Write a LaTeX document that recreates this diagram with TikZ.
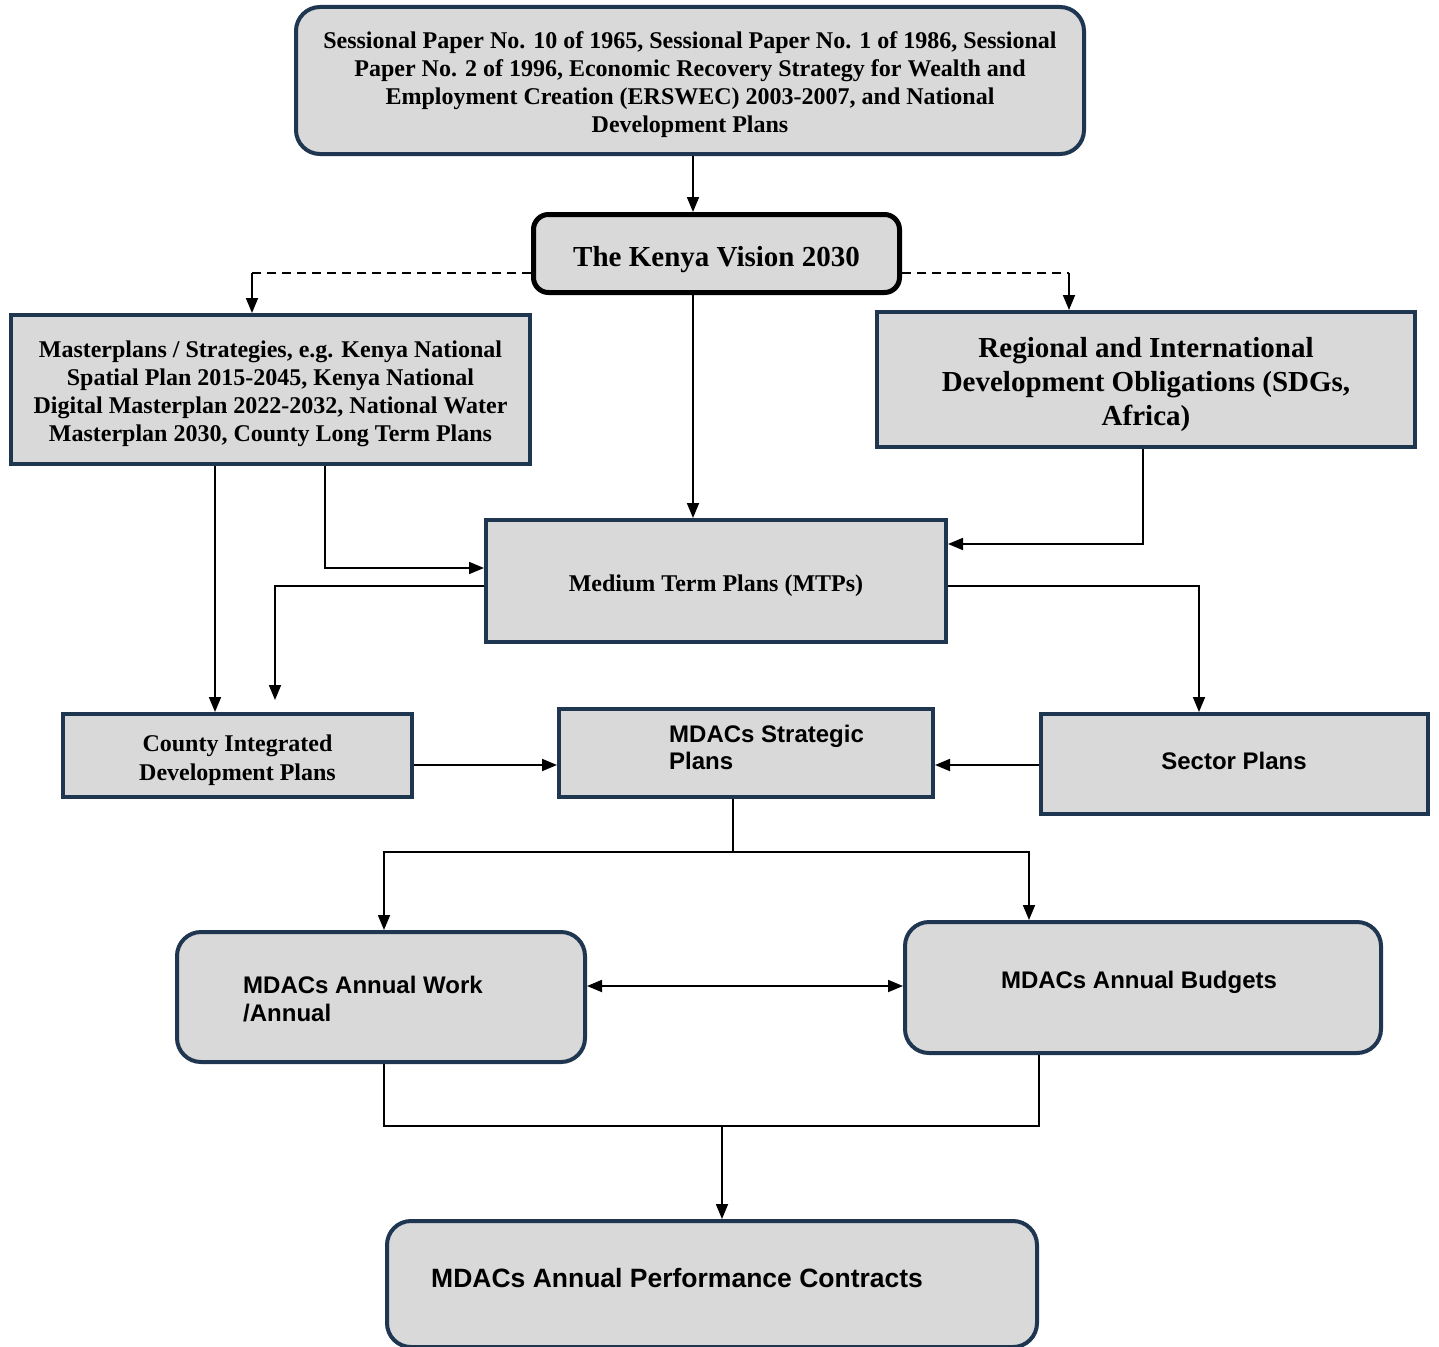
\documentclass[tikz,border=0pt]{standalone}
\usepackage{fontspec}
\setmainfont{Liberation Serif}
\setsansfont{Liberation Sans}
\usetikzlibrary{arrows.meta}
\definecolor{navy}{HTML}{1F3651}
\definecolor{boxfill}{HTML}{D9D9D9}
\tikzset{
  nbox/.style={draw=navy, line width=4pt, fill=boxfill, inner sep=0pt, align=center},
  rbox/.style={nbox, rounded corners=24pt},
  conn/.style={line width=1.8pt, -{Triangle[length=15pt,width=12pt]}},
  dconn/.style={line width=1.8pt, {Triangle[length=15pt,width=12pt]}-{Triangle[length=15pt,width=12pt]}},
  plainline/.style={line width=1.8pt},
  dashline/.style={line width=1.8pt, dash pattern=on 9pt off 6pt},
  txt/.style={inner sep=0pt, align=center},
  serifA/.style={txt, font=\fontsize{24}{28}\selectfont\bfseries},
  serifB/.style={txt, font=\fontsize{29}{34}\selectfont\bfseries},
  sansA/.style={txt, font=\fontsize{24}{28}\selectfont\sffamily\bfseries},
}
\begin{document}
\begin{tikzpicture}[x=1pt,y=-1pt]
\clip (0,0) rectangle (1439,1346);
\fill[white] (0,0) rectangle (1439,1346);

% boxes
\node[rbox, minimum width=788pt, minimum height=147pt] (top) at (690,80.5) {};
\node[serifA] (toptext) at (690,85)
  {Sessional Paper No. 10 of 1965, Sessional Paper No. 1 of 1986, Sessional\\
   Paper No. 2 of 1996, Economic Recovery Strategy for Wealth and\\
   Employment Creation (ERSWEC) 2003-2007, and National\\
   Development Plans};
\node[draw=black, line width=5pt, fill=boxfill, rounded corners=15pt, inner sep=0pt,
  minimum width=366pt, minimum height=78pt] (vision) at (716.5,253.5) {};
\node[txt, font=\fontsize{29}{34}\selectfont\bfseries] (visiontext) at (716.5,259.5)
  {The Kenya Vision 2030};
\node[nbox, minimum width=519pt, minimum height=149pt] (master) at (270.5,389.5) {};
\node[serifA] (mastertext) at (270.5,394)
  {Masterplans / Strategies, e.g. Kenya National\\
   Spatial Plan 2015-2045, Kenya National\\
   Digital Masterplan 2022-2032, National Water\\
   Masterplan 2030, County Long Term Plans};
\node[nbox, minimum width=538pt, minimum height=135pt] (regional) at (1146,379.5) {};
\node[serifB] (regionaltext) at (1146,384.5)
  {Regional and International\\ Development Obligations (SDGs,\\ Africa)};
\node[nbox, minimum width=460pt, minimum height=122pt] (mtp) at (716,581) {};
\node[serifA] (mtptext) at (716,586) {Medium Term Plans (MTPs)};
\node[nbox, minimum width=349pt, minimum height=83pt] (cidp) at (237.5,755.5) {};
\node[txt, font=\fontsize{24}{29}\selectfont\bfseries] (cidptext) at (237.5,760.5)
  {County Integrated\\ Development Plans};
\node[nbox, minimum width=374pt, minimum height=88pt] (strat) at (746,753) {};
\node[txt, font=\fontsize{24}{27}\selectfont\sffamily\bfseries, align=left, anchor=west] (strattext) at (669,747.5)
  {MDACs Strategic\\ Plans};
\node[nbox, minimum width=387pt, minimum height=100pt] (sector) at (1234.5,764) {};
\node[sansA] (sectortext) at (1234,761) {Sector Plans};
\node[rbox, minimum width=408pt, minimum height=130pt] (work) at (381,997) {};
\node[sansA, align=left, anchor=west] (worktext) at (243,999)
  {MDACs Annual Work\\ /Annual};
\node[rbox, minimum width=476pt, minimum height=131pt] (budget) at (1143,987.5) {};
\node[sansA] (budgettext) at (1139,982.5) {MDACs Annual Budgets};
\node[rbox, minimum width=650pt, minimum height=126pt] (perf) at (712,1284) {};
\node[txt, font=\fontsize{26.5}{30}\selectfont\sffamily\bfseries, anchor=west] (perftext) at (431,1278)
  {MDACs Annual Performance Contracts};

% helper coordinates
\coordinate (x693) at (693,0);
\coordinate (dl) at (252,273);
\coordinate (dr) at (1069,273);
\coordinate (r1) at (1143,544);
\coordinate (x215) at (215,0);
\coordinate (m1) at (325,568);
\coordinate (m2) at (275,586);
\coordinate (m2e) at (275,700);
\coordinate (s1) at (1199,586);
\coordinate (y765) at (0,765);
\coordinate (b0) at (733,852);
\coordinate (b1) at (384,852);
\coordinate (b2) at (1029,852);
\coordinate (y986) at (0,986);
\coordinate (c1) at (384,1126);
\coordinate (c2) at (1039,1126);
\coordinate (c0) at (722,1126);

% connectors
\draw[conn] (top.south -| x693) -- (vision.north -| x693);
\draw[conn] (vision.south -| x693) -- (mtp.north -| x693);
\draw[dashline] (vision.west |- dl) -- (dl);
\draw[conn] (dl) -- (master.north -| dl);
\draw[dashline] (vision.east |- dr) -- (dr);
\draw[conn] (dr) -- (regional.north -| dr);
\draw[conn] (regional.south -| r1) -- (r1) -- (mtp.east |- r1);
\draw[conn] (master.south -| x215) -- (cidp.north -| x215);
\draw[conn] (master.south -| m1) -- (m1) -- (mtp.west |- m1);
\draw[conn] (mtp.west |- m2) -- (m2) -- (m2e);
\draw[conn] (mtp.east |- s1) -- (s1) -- (sector.north -| s1);
\draw[conn] (cidp.east |- y765) -- (strat.west |- y765);
\draw[conn] (sector.west |- y765) -- (strat.east |- y765);
\draw[plainline] (strat.south -| b0) -- (b0);
\draw[conn] (b0) -- (b1) -- (work.north -| b1);
\draw[conn] (b0) -- (b2) -- (budget.north -| b2);
\draw[dconn] (work.east |- y986) -- (budget.west |- y986);
\draw[plainline] (work.south -| c1) -- (c1) -- (c2) -- (budget.south -| c2);
\draw[conn] (c0) -- (perf.north -| c0);
\end{tikzpicture}
\end{document}
